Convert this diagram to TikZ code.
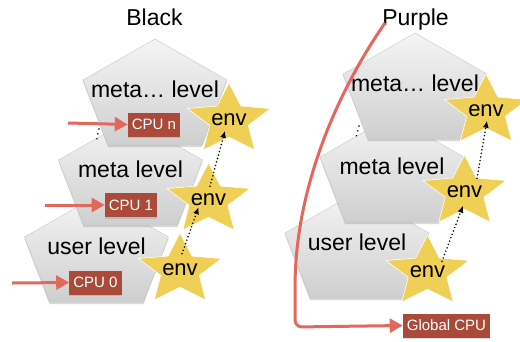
\documentclass[tikz,border=0pt]{standalone}
\usepackage{fontspec}
\setmainfont{Liberation Sans}
\usetikzlibrary{arrows.meta,shapes.geometric,shadows,calc}
\definecolor{starfill}{HTML}{EFCF55}
\definecolor{cpured}{HTML}{A94A3B}
\definecolor{feedred}{HTML}{E4675B}
\begin{document}
\begin{tikzpicture}[x=1pt,y=-1pt,line join=round,
    level/.style={draw=gray!45,line width=0.4pt,top color=gray!8,bottom color=gray!38,
      drop shadow={shadow xshift=0pt,shadow yshift=-2pt,opacity=0.3}},
    lvltext/.style={font=\fontsize{23}{23}\selectfont,inner sep=0pt,anchor=base},
    title/.style={font=\fontsize{23}{23}\selectfont,inner sep=0pt,anchor=base},
    cpubox/.style={fill=cpured,text=white,font=\fontsize{15}{15}\selectfont,
      minimum height=24pt,inner xsep=4pt,inner ysep=0pt,
      drop shadow={shadow xshift=0pt,shadow yshift=-1.5pt,opacity=0.25}},
    feed/.style={draw=feedred,line width=3pt,-{Triangle[length=13pt,width=14pt]}},
    envstar/.style={star,star points=5,star point ratio=2.15,minimum size=74pt,inner sep=0pt,
      xscale=1.18,fill=starfill,draw=white,line width=0.6pt},
    envtext/.style={font=\fontsize{22}{22}\selectfont,inner sep=1pt},
    lift/.style={line width=1.7pt,dash pattern=on 0pt off 3.6pt,line cap=round,
      -{Latex[length=7pt,width=6pt]}},
    elide/.style={line width=1.7pt,dash pattern=on 0pt off 5pt,line cap=round}]
  \useasboundingbox (0,0) rectangle (520,341);
  \clip (0,0) rectangle (520,341);
  % titles
  \node[title] (black) at (154.5,25) {Black};
  \node[title] (purple) at (415.5,25) {Purple};
  % levels, drawn from the back to the front
  \foreach \cx/\ay/\nm/\txt in {96.5/196/lusr/user level,130.5/119/lmeta/meta level,155/39/lmetan/meta… level,
                                357/192/rusr/user level,392/116/rmeta/meta level,415/33/rmetan/meta… level}{
    \path[level] (\cx,\ay) -- ++(72,41) -- ++(-25,65) -- ++(-94,0) -- ++(-25,-65) -- cycle;
    \node[lvltext] (\nm) at (\cx,\ay+58) {\txt};
  }
  \draw[elide] (99,129) -- (96,143);
  \draw[elide] (359,126) -- (356,138);
  % cpus of the black tower
  \node[cpubox] (cpu0) at (95.5,282.5) {CPU 0};
  \node[cpubox] (cpu1) at (131,205) {CPU 1};
  \node[cpubox] (cpun) at (154,124.5) {CPU n};
  \coordinate (in0) at (12,283);
  \coordinate (in1) at (45,205);
  \coordinate (inn) at (68,123);
  \draw[feed] (in0) -- (cpu0.west);
  \draw[feed] (in1) -- (cpu1.west);
  \draw[feed] (inn) -- (cpun.west);
  % environments
  \foreach \nm/\x/\y in {l0/180/270,l1/208.5/200,l2/229/120,r0/427.5/272,r1/464.5/192,r2/486/111}{
    \node[envstar] (star\nm) at (\x,\y) {};
    \node[envtext] (env\nm) at (\x,\y) {env};
  }
  \draw[lift] ($(envl0.north)+(2,-9)$) -- ($(envl1.south)+(-10,0)$);
  \draw[lift] ($(envl1.north)+(1.5,-6.5)$) -- ($(envl2.south)+(-4,3.5)$);
  \draw[lift] ($(envr0.north)+(14.5,-3.5)$) -- ($(envr1.south)+(-1.5,6.5)$);
  \draw[lift] ($(envr1.north)+(12.5,-6.5)$) -- ($(envr2.south)+(1,2.5)$);
  % one cpu for the purple tower
  \node[cpubox] (gcpu) at (446.5,325.5) {Global CPU};
  \coordinate (gin) at (385,23);
  \draw[feed,rounded corners=7pt] (gin) .. controls (335,95) and (296,190) .. (295,290)
    -- (295,327) -- (gcpu.west);
\end{tikzpicture}
\end{document}
